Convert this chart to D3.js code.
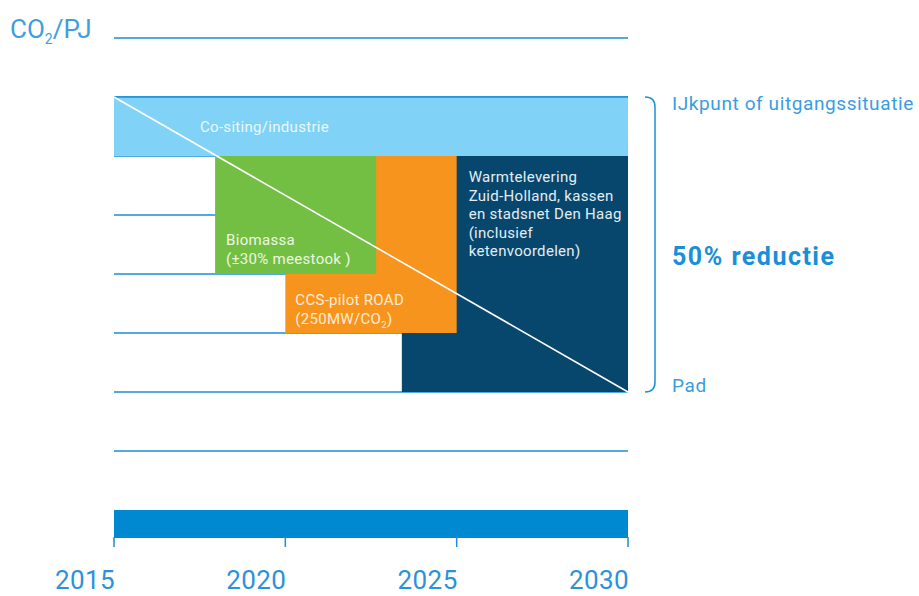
<!DOCTYPE html>
<html>
<head>
<meta charset="utf-8">
<script src="https://cdn.jsdelivr.net/npm/d3@7/dist/d3.min.js"></script>
<style>
  html, body { margin: 0; padding: 0; background: #fff; }
  svg { display: block; font-family: Roboto, "Noto Sans", sans-serif; }
</style>
</head>
<body>
<svg id="chart" width="919" height="596"></svg>
<script>
// Reduction path: CO2 per PJ, indexed (100 = baseline, 50 = target)
const years = [2015, 2020, 2025, 2030];
const gridLevels = [40, 50, 60, 70, 80, 90, 100, 110];
const baseline = 100;
const target = 50;

// Measures, in drawing order (later ones sit on top)
const measureNames = ["Warmtelevering", "CCS", "Biomassa", "Co-siting"];
const measureStart = [2023.4, 2020, 2017.95, 2015];
const measureEnd   = [2030, 2025, 2022.65, 2030];
const measureHigh  = [90, 90, 90, 100];
const measureLow   = [50, 60, 70, 90];
const measureColor = ["#07476d", "#f7941d", "#72bf44", "#80d3f6"];
const measureLabels = [
  ["Warmtelevering", "Zuid-Holland, kassen", "en stadsnet Den Haag", "(inclusief", "ketenvoordelen)"],
  ["CCS-pilot ROAD", "(250MW/CO|2|)"],
  ["Biomassa", "(±30% meestook )"],
  ["Co-siting/industrie"]
];
const labelColor = ["#e4edf4", "#fdecd6", "#eef7e2", "#eaf7fd"];

const svg = d3.select("#chart");
const blue = "#1a8ed6";

const x = d3.scaleLinear().domain([2015, 2030]).range([114, 628]);
const y = d3.scaleLinear().domain([target, baseline]).range([392, 97]);

// Horizontal grid
svg.append("g").selectAll("line")
  .data(gridLevels)
  .join("line")
  .attr("x1", x(2015)).attr("x2", x(2030))
  .attr("y1", d => y(d)).attr("y2", d => y(d))
  .attr("stroke", blue).attr("stroke-width", 1.6);

// Measure blocks
const blocks = measureNames.map((n, i) => ({
  name: n, x0: measureStart[i], x1: measureEnd[i],
  hi: measureHigh[i], lo: measureLow[i], color: measureColor[i]
}));
svg.append("g").selectAll("rect")
  .data(blocks)
  .join("rect")
  .attr("x", d => x(d.x0))
  .attr("width", d => x(d.x1) - x(d.x0))
  .attr("y", d => y(d.hi))
  .attr("height", d => y(d.lo) - y(d.hi))
  .attr("fill", d => d.color);

// Baseline edge on top of the light-blue block
svg.append("line")
  .attr("x1", x(2015)).attr("x2", x(2030))
  .attr("y1", y(baseline)).attr("y2", y(baseline))
  .attr("stroke", blue).attr("stroke-width", 1.6);

// Straight-line reduction path
svg.append("line")
  .attr("x1", x(2015)).attr("y1", y(baseline))
  .attr("x2", x(2030)).attr("y2", y(target))
  .attr("stroke", "#ffffff").attr("stroke-width", 1.6);

// Block labels
function writeLines(g, lines, lx, ly, lh, size, color) {
  lines.forEach((ln, k) => {
    const t = g.append("text")
      .attr("x", lx).attr("y", ly + k * lh)
      .attr("font-size", size).attr("letter-spacing", 0.3).attr("fill", color);
    const parts = ln.split("|");
    parts.forEach((p, j) => {
      if (j % 2 === 1) {
        t.append("tspan").attr("font-size", size * 0.65).attr("dy", 4).text(p);
      } else {
        const ts = t.append("tspan").text(p);
        if (j > 0) ts.attr("dy", -4);
      }
    });
  });
}
const lab = svg.append("g");
const fs = 15;
// Co-siting
writeLines(lab, measureLabels[3], 200, 132, 18, fs, labelColor[3]);
// Biomassa
writeLines(lab, measureLabels[2], x(measureStart[2]) + 11, 245, 18.5, fs, labelColor[2]);
// CCS
writeLines(lab, measureLabels[1], x(measureStart[1]) + 10, 305, 18.5, fs, labelColor[1]);
// Warmtelevering
writeLines(lab, measureLabels[0], x(2025) + 12, 182, 18.5, fs, labelColor[0]);

// Time axis band
svg.append("rect")
  .attr("x", x(2015)).attr("width", x(2030) - x(2015))
  .attr("y", 510).attr("height", 28)
  .attr("fill", "#0088d0");
svg.append("g").selectAll("line")
  .data(years)
  .join("line")
  .attr("x1", d => x(d)).attr("x2", d => x(d))
  .attr("y1", 537).attr("y2", 547)
  .attr("stroke", blue).attr("stroke-width", 1.5);
svg.append("g").selectAll("text")
  .data(years)
  .join("text")
  .attr("x", d => x(d) + 1).attr("y", 589)
  .attr("text-anchor", "end")
  .attr("font-size", 26)
  .attr("letter-spacing", 0.4)
  .attr("fill", "#2b92d8")
  .text(d => d);

// Unit label
const unit = svg.append("text")
  .attr("x", 10).attr("y", 38)
  .attr("font-size", 26).attr("fill", "#3d9ee0");
unit.append("tspan").text("CO");
unit.append("tspan").attr("font-size", 14).attr("dy", 6).text("2");
unit.append("tspan").attr("dy", -6).text("/PJ");

// Bracket spanning the reduction
const bx = 647;
const br = d3.path();
br.moveTo(bx - 2, y(baseline));
br.quadraticCurveTo(bx + 8, y(baseline), bx + 8, y(baseline) + 10);
br.lineTo(bx + 8, y(target) - 10);
br.quadraticCurveTo(bx + 8, y(target), bx - 2, y(target));
svg.append("path").attr("d", br.toString())
  .attr("fill", "none").attr("stroke", blue).attr("stroke-width", 1.5);

svg.append("text").attr("x", 672).attr("y", y(baseline) + 13)
  .attr("font-size", 19).attr("letter-spacing", 0.6).attr("fill", "#3a9ce0").text("IJkpunt of uitgangssituatie");
svg.append("text").attr("x", 672).attr("y", y(target))
  .attr("font-size", 19).attr("letter-spacing", 0.6).attr("fill", "#3a9ce0").text("Pad");
svg.append("text").attr("x", 672).attr("y", (y(baseline) + y(target)) / 2 + 20)
  .attr("font-size", 25).attr("letter-spacing", 1.5).attr("font-weight", "bold").attr("fill", "#1a8ed6").text("50% reductie");
</script>
</body>
</html>
